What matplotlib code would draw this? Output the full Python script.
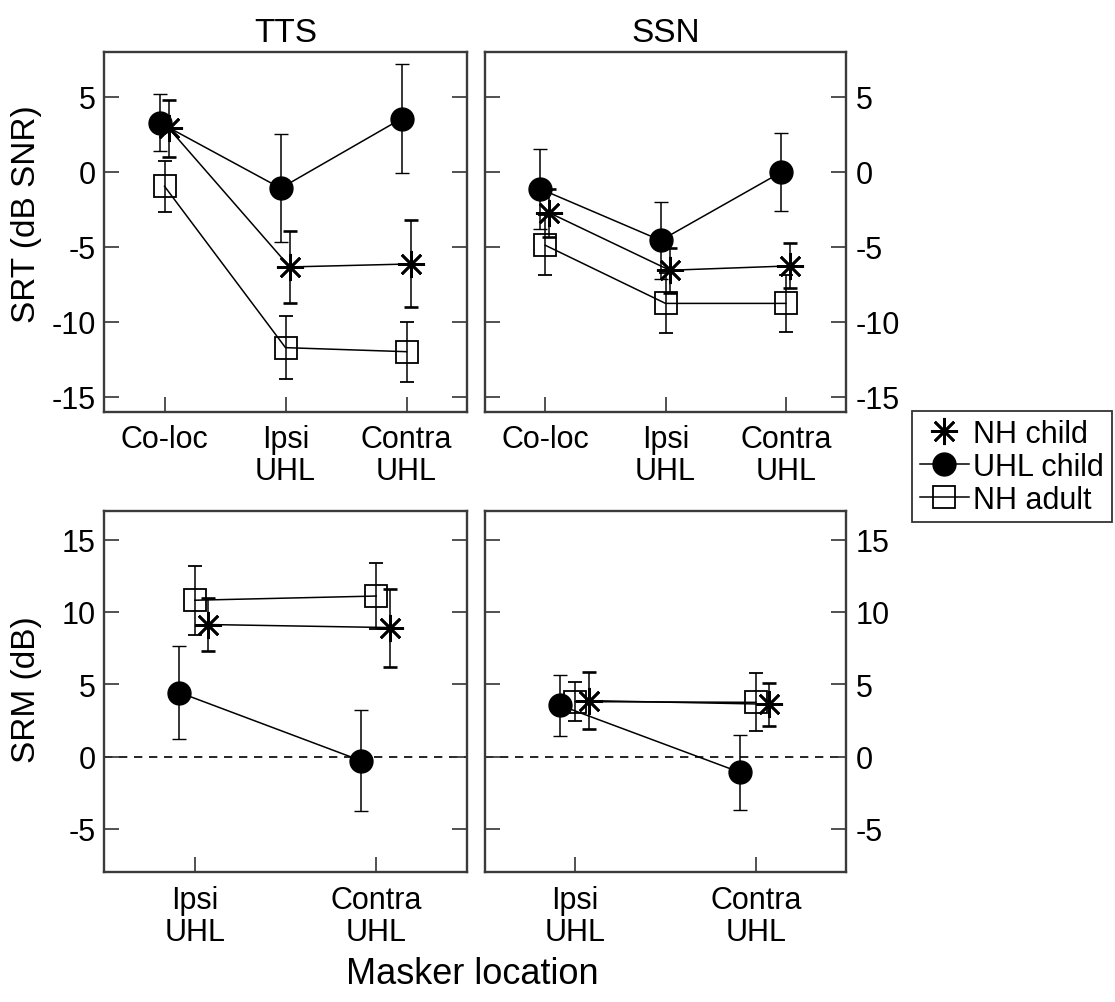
import matplotlib
matplotlib.use("Agg")
import matplotlib.pyplot as plt
from matplotlib.lines import Line2D
import numpy as np

plt.rcParams['font.family'] = ['Liberation Sans', 'DejaVu Sans']
plt.rcParams['axes.unicode_minus'] = False

# ---------------- data ----------------
top_categories = ["Co-loc", "Ipsi\nUHL", "Contra\nUHL"]
bottom_categories = ["Ipsi\nUHL", "Contra\nUHL"]
panel_titles = ["TTS", "SSN"]
series_names = ["NH child", "UHL child", "NH adult"]

# SRT (dB SNR), TTS masker
tts_srt_nh_child = [2.9, -6.35, -6.15]
tts_srt_nh_child_err = [1.9, 2.4, 2.9]
tts_srt_uhl_child = [3.27, -1.1, 3.54]
tts_srt_uhl_child_err = [1.9, 3.6, 3.65]
tts_srt_nh_adult = [-0.97, -11.73, -12.0]
tts_srt_nh_adult_err = [1.7, 2.1, 2.0]

# SRT (dB SNR), SSN masker
ssn_srt_nh_child = [-2.74, -6.57, -6.28]
ssn_srt_nh_child_err = [1.6, 1.5, 1.5]
ssn_srt_uhl_child = [-1.15, -4.58, -0.04]
ssn_srt_uhl_child_err = [2.65, 2.55, 2.6]
ssn_srt_nh_adult = [-4.9, -8.78, -8.78]
ssn_srt_nh_adult_err = [2.0, 2.0, 1.9]

# SRM (dB), TTS masker
tts_srm_nh_child = [9.13, 8.92]
tts_srm_nh_child_err = [1.8, 2.7]
tts_srm_uhl_child = [4.43, -0.28]
tts_srm_uhl_child_err = [3.2, 3.5]
tts_srm_nh_adult = [10.81, 11.1]
tts_srm_nh_adult_err = [2.4, 2.3]

# SRM (dB), SSN masker
ssn_srm_nh_child = [3.87, 3.62]
ssn_srm_nh_child_err = [1.95, 1.5]
ssn_srm_uhl_child = [3.55, -1.1]
ssn_srm_uhl_child_err = [2.1, 2.6]
ssn_srm_nh_adult = [3.8, 3.75]
ssn_srm_nh_adult_err = [1.35, 2.0]

top_yticks = [-15, -10, -5, 0, 5]
bottom_yticks = [-5, 0, 5, 10, 15]

# ---------------- style ----------------
W, H = 1115, 1003
fig = plt.figure(figsize=(W / 100, H / 100), dpi=100)

def px_axes(x0, y0, x1, y1):
    return fig.add_axes([x0 / W, 1 - y1 / H, (x1 - x0) / W, (y1 - y0) / H])

ax_tl = px_axes(104, 52.7, 467, 412.7)
ax_tr = px_axes(485, 52.7, 846, 412.7)
ax_bl = px_axes(104, 511.7, 467, 873.3)
ax_br = px_axes(485, 511.7, 846, 873.3)

FS = 22
star = (8, 2, 0)
styles = {
    "NH child": dict(marker=star, ms=19.5, mfc='k', mec='k', mew=1.9),
    "UHL child": dict(marker='o', ms=16.5, mfc='k', mec='k', mew=1.0),
    "NH adult": dict(marker='s', ms=15.5, mfc='none', mec='k', mew=1.3),
}
top_offsets = {"NH child": 0.035, "UHL child": -0.04, "NH adult": 0.0}
bottom_offsets = {"NH child": 0.075, "UHL child": -0.085, "NH adult": 0.0}

def draw(ax, cats, series, offsets, ylim, yticks, right, zero_line=False):
    x = np.arange(1, len(cats) + 1)
    if zero_line:
        ax.axhline(0, color='k', lw=1.2, ls=(0, (5, 4)), zorder=1)
    for name in ["NH adult", "UHL child", "NH child"]:
        y, e = series[name]
        ax.errorbar(x + offsets[name], y, yerr=e, color='k', lw=1.1,
                    elinewidth=1.1, capsize=5, capthick=1.1, zorder=3,
                    **styles[name])
    ax.set_xlim(0.5, len(cats) + 0.5)
    ax.set_ylim(*ylim)
    ax.set_xticks(x)
    ax.set_xticklabels(cats, fontsize=FS, linespacing=1.1)
    ax.set_yticks(yticks)
    ax.set_yticklabels([str(t) for t in yticks], fontsize=FS)
    ax.tick_params(axis='both', direction='in', length=11, width=1.2,
                   color='#333333', top=False, left=True, right=True,
                   labelleft=not right, labelright=right)
    ax.tick_params(axis='x', pad=9)
    ax.tick_params(axis='y', pad=6 if not right else 7)
    for s in ax.spines.values():
        s.set_color('#3a3a3a')
        s.set_linewidth(1.7)

draw(ax_tl, top_categories,
     {"NH child": (tts_srt_nh_child, tts_srt_nh_child_err),
      "UHL child": (tts_srt_uhl_child, tts_srt_uhl_child_err),
      "NH adult": (tts_srt_nh_adult, tts_srt_nh_adult_err)},
     top_offsets, (-16, 8), top_yticks, right=False)
draw(ax_tr, top_categories,
     {"NH child": (ssn_srt_nh_child, ssn_srt_nh_child_err),
      "UHL child": (ssn_srt_uhl_child, ssn_srt_uhl_child_err),
      "NH adult": (ssn_srt_nh_adult, ssn_srt_nh_adult_err)},
     top_offsets, (-16, 8), top_yticks, right=True)
draw(ax_bl, bottom_categories,
     {"NH child": (tts_srm_nh_child, tts_srm_nh_child_err),
      "UHL child": (tts_srm_uhl_child, tts_srm_uhl_child_err),
      "NH adult": (tts_srm_nh_adult, tts_srm_nh_adult_err)},
     bottom_offsets, (-8, 17), bottom_yticks, right=False, zero_line=True)
draw(ax_br, bottom_categories,
     {"NH child": (ssn_srm_nh_child, ssn_srm_nh_child_err),
      "UHL child": (ssn_srm_uhl_child, ssn_srm_uhl_child_err),
      "NH adult": (ssn_srm_nh_adult, ssn_srm_nh_adult_err)},
     bottom_offsets, (-8, 17), bottom_yticks, right=True, zero_line=True)

ax_tl.set_title(panel_titles[0], fontsize=24, pad=8)
ax_tr.set_title(panel_titles[1], fontsize=24, pad=8)

fig.text(27 / W, 1 - 214 / H, "SRT (dB SNR)", rotation=90, fontsize=24,
         ha='center', va='center')
fig.text(27 / W, 1 - 690 / H, "SRM (dB)", rotation=90, fontsize=24,
         ha='center', va='center')
fig.text(472 / W, 1 - 975 / H, "Masker location", fontsize=26,
         ha='center', va='center')

handles = [
    Line2D([], [], color='k', lw=0, **styles["NH child"]),
    Line2D([], [], color='k', lw=1.1, **styles["UHL child"]),
    Line2D([], [], color='k', lw=1.1, **styles["NH adult"]),
]
leg = fig.legend(handles, series_names, loc='upper left',
                 bbox_to_anchor=(912 / W, 1 - 412 / H), fontsize=FS,
                 frameon=True, fancybox=False, edgecolor='k',
                 handlelength=1.6, handletextpad=0.15, borderpad=0.25,
                 labelspacing=0.1, borderaxespad=0.0)
leg.get_frame().set_linewidth(1.3)

fig.savefig("out.png", dpi=100)
